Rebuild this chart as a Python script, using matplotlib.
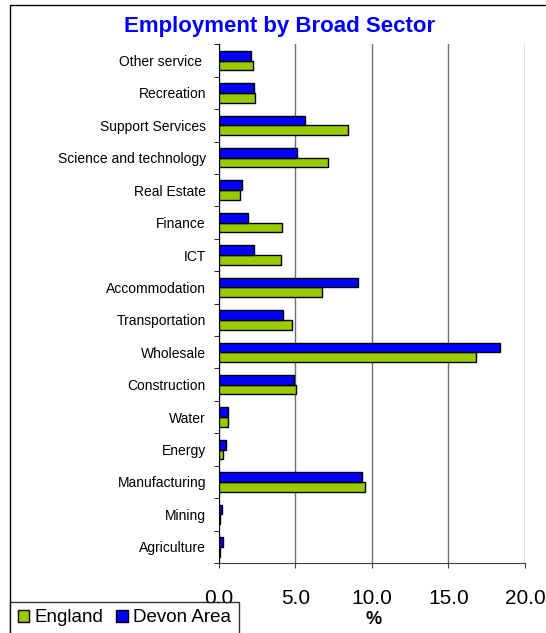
import numpy as np
import matplotlib
matplotlib.use("Agg")
import matplotlib.pyplot as plt
from matplotlib.patches import Rectangle

plt.rcParams['font.family'] = ['Liberation Sans', 'DejaVu Sans']

sectors = ["Agriculture", "Mining", "Manufacturing", "Energy", "Water",
           "Construction", "Wholesale", "Transportation", "Accommodation",
           "ICT", "Finance", "Real Estate", "Science and technology",
           "Support Services", "Recreation", "Other service "]
england = [0.05, 0.05, 9.55, 0.29, 0.57, 5.03, 16.8, 4.8, 6.72,
           4.03, 4.1, 1.39, 7.12, 8.45, 2.37, 2.2]
devon = [0.28, 0.17, 9.37, 0.48, 0.6, 4.93, 18.35, 4.2, 9.06,
         2.3, 1.9, 1.5, 5.12, 5.64, 2.3, 2.09]

fig = plt.figure(figsize=(5.46, 6.33), dpi=100)
ax = fig.add_axes([0.401, 0.1106, 0.5604, 0.8194])

y = np.arange(len(sectors))
h = 0.3
ax.barh(y - h / 2, england, height=h, color='#99CC00', edgecolor='black',
        linewidth=1, label='England', zorder=3)
ax.barh(y + h / 2, devon, height=h, color='#0000FF', edgecolor='black',
        linewidth=1, label='Devon Area', zorder=3)

ax.set_xlim(0, 20)
ax.set_ylim(-0.5, len(sectors) - 0.5)
ax.set_xticks([0, 5, 10, 15, 20])
ax.set_xticklabels(['0.0', '5.0', '10.0', '15.0', '20.0'], fontsize=15)
ax.tick_params(axis='x', length=3.6, pad=15, color='#404040')
ax.set_yticks(y)
ax.set_yticklabels(sectors, fontsize=10)
ax.set_yticks(np.arange(len(sectors) + 1) - 0.5, minor=True)
ax.tick_params(axis='y', which='major', length=0, pad=9.4)
ax.tick_params(axis='y', which='minor', length=3.6, color='black')
ax.xaxis.grid(True, color='#707070', linewidth=1, zorder=0)
for s in ['top', 'right']:
    ax.spines[s].set_visible(False)
ax.spines['left'].set_color('black')
ax.spines['bottom'].set_color('#404040')

fig.text(374 / 546, 1 - 620 / 633, '%', ha='center', va='center',
         fontsize=13, fontweight='bold')
fig.text(280 / 546, 1 - 32 / 633, 'Employment by Broad Sector', ha='center',
         va='baseline', fontsize=16, fontweight='bold', color='#0000FF')

# outer chart border
fig.patches.append(Rectangle((10 / 546, -0.1), 1.2, 1.1 - 5 / 633,
                             transform=fig.transFigure, fill=False,
                             edgecolor='black', linewidth=1))

handles, labels = ax.get_legend_handles_labels()
leg = fig.legend(handles, labels, loc='upper left',
                 bbox_to_anchor=(10 / 546, 1 - 602 / 633), ncol=2,
                 fontsize=13.5, frameon=True, fancybox=False,
                 edgecolor='black', handlelength=0.6, handleheight=0.6,
                 handletextpad=0.3, columnspacing=0.7, borderpad=0.4,
                 borderaxespad=0)
leg.get_frame().set_linewidth(1)

fig.savefig('out.png', dpi=100)
